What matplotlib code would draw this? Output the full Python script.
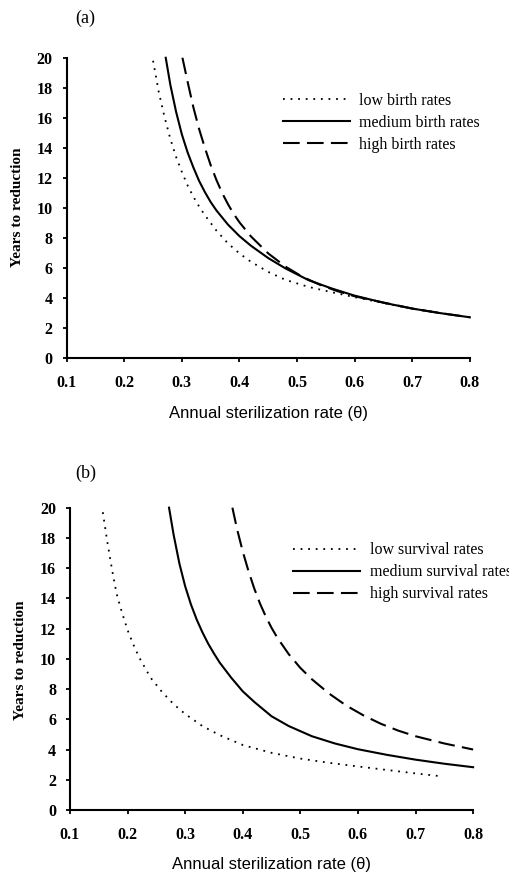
import matplotlib
matplotlib.use("Agg")
import matplotlib.pyplot as plt

# Panel (a): birth rates
a_low_x = [0.25, 0.26, 0.27, 0.28, 0.29, 0.30, 0.31, 0.32, 0.33, 0.34, 0.36, 0.38,
           0.40, 0.42, 0.45, 0.48, 0.52, 0.56, 0.60, 0.65, 0.70, 0.75, 0.80]
a_low_y = [19.8, 17.7, 16.05, 14.6, 13.4, 12.4, 11.5, 10.75, 10.1, 9.52, 8.5, 7.65,
           6.98, 6.42, 5.75, 5.22, 4.75, 4.4, 4.07, 3.68, 3.31, 3.0, 2.73]
a_med_x = [0.272, 0.28, 0.29, 0.30, 0.31, 0.32, 0.33, 0.34, 0.35, 0.36, 0.38,
           0.40, 0.42, 0.45, 0.48, 0.52, 0.56, 0.60, 0.65, 0.70, 0.75, 0.80]
a_med_y = [20.0, 18.2, 16.4, 14.9, 13.7, 12.7, 11.8, 11.06, 10.4, 9.84, 8.9,
           8.13, 7.49, 6.67, 5.98, 5.2, 4.65, 4.17, 3.7, 3.31, 3.0, 2.73]
a_high_x = [0.301, 0.31, 0.32, 0.33, 0.34, 0.35, 0.36, 0.37, 0.38, 0.39, 0.40,
            0.42, 0.45, 0.48, 0.51, 0.54, 0.57, 0.60, 0.65, 0.70, 0.75, 0.80]
a_high_y = [20.0, 18.4, 16.7, 15.25, 14.0, 12.86, 11.87, 11.0, 10.26, 9.61, 9.05,
            8.11, 6.98, 6.10, 5.41, 4.89, 4.47, 4.13, 3.71, 3.31, 3.0, 2.73]

# Panel (b): survival rates
b_low_x = [0.157, 0.165, 0.173, 0.181, 0.19, 0.20, 0.21, 0.22, 0.24, 0.26, 0.28,
           0.30, 0.33, 0.36, 0.40, 0.45, 0.50, 0.55, 0.60, 0.65, 0.70, 0.74]
b_low_y = [19.7, 17.7, 15.9, 14.3, 13.1, 11.9, 10.95, 10.1, 8.75, 7.8, 7.0,
           6.35, 5.55, 4.95, 4.3, 3.78, 3.4, 3.12, 2.88, 2.65, 2.42, 2.25]
b_med_x = [0.272, 0.28, 0.29, 0.30, 0.31, 0.32, 0.33, 0.34, 0.35, 0.36, 0.38,
           0.40, 0.42, 0.45, 0.48, 0.52, 0.56, 0.60, 0.65, 0.70, 0.75, 0.80]
b_med_y = [20.0, 18.2, 16.3, 14.8, 13.6, 12.6, 11.75, 11.0, 10.35, 9.75, 8.75,
           7.85, 7.15, 6.2, 5.55, 4.88, 4.4, 4.02, 3.65, 3.33, 3.06, 2.83]
b_high_x = [0.382, 0.39, 0.40, 0.41, 0.42, 0.43, 0.44, 0.45, 0.46, 0.48,
            0.50, 0.52, 0.55, 0.58, 0.61, 0.64, 0.67, 0.70, 0.75, 0.80]
b_high_y = [20.0, 18.6, 17.1, 15.8, 14.65, 13.65, 12.8, 12.05, 11.4, 10.3,
            9.4, 8.65, 7.7, 6.9, 6.25, 5.7, 5.25, 4.88, 4.4, 4.0]

x_ticks = [0.1, 0.2, 0.3, 0.4, 0.5, 0.6, 0.7, 0.8]
y_ticks = [0, 2, 4, 6, 8, 10, 12, 14, 16, 18, 20]

SERIF = "Liberation Serif"
SANS = "Liberation Sans"

fig = plt.figure(figsize=(5.09, 8.75), dpi=100)
ax_a = fig.add_axes([0.131, 0.5905, 0.792, 0.3435])
ax_b = fig.add_axes([0.1375, 0.0743, 0.792, 0.3455])


def style_axes(ax):
    ax.set_xlim(0.1, 0.8)
    ax.set_ylim(0, 20)
    for s in ["top", "right"]:
        ax.spines[s].set_visible(False)
    for s in ["left", "bottom"]:
        ax.spines[s].set_linewidth(1.5)
    ax.set_xticks(x_ticks)
    ax.set_yticks(y_ticks)
    ax.set_xticklabels([f"{t:.1f}" for t in x_ticks])
    ax.tick_params(axis="both", direction="out", length=3, width=1.3)
    ax.tick_params(axis="x", pad=9)
    ax.tick_params(axis="y", pad=7)
    for lbl in ax.get_xticklabels() + ax.get_yticklabels():
        lbl.set_fontfamily(SERIF)
        lbl.set_fontweight("bold")
        lbl.set_fontsize(11.5)
    ax.set_xlabel("Annual sterilization rate (\u03b8)", fontfamily=SANS, fontsize=12)
    ax.set_ylabel("Years to reduction", fontfamily=SERIF, fontweight="bold", fontsize=11)


def draw(ax, series, labels, anchor):
    styles = [dict(linestyle=(0, (1, 3.2)), linewidth=1.3),
              dict(linestyle="-", linewidth=1.5),
              dict(linestyle=(0, (8, 3.5)), linewidth=1.5)]
    for (xs, ys), lab, st in zip(series, labels, styles):
        ax.plot(xs, ys, color="black", label=lab, clip_on=False, **st)
    ax.legend(loc="upper left", bbox_to_anchor=anchor, frameon=False,
              prop={"family": SERIF, "size": 11.5}, handlelength=4.2,
              handletextpad=0.6, labelspacing=0.38, borderpad=0, borderaxespad=0)


style_axes(ax_a)
draw(ax_a, [(a_low_x, a_low_y), (a_med_x, a_med_y), (a_high_x, a_high_y)],
     ["low birth rates", "medium birth rates", "high birth rates"], (0.536, 0.884))
ax_a.xaxis.set_label_coords(0.5, -0.158)
ax_a.yaxis.set_label_coords(-0.106, 0.503)

style_axes(ax_b)
draw(ax_b, [(b_low_x, b_low_y), (b_med_x, b_med_y), (b_high_x, b_high_y)],
     ["low survival rates", "medium survival rates", "high survival rates"], (0.553, 0.886))
ax_b.xaxis.set_label_coords(0.5, -0.155)
ax_b.yaxis.set_label_coords(-0.107, 0.496)

fig.text(85 / 509, 1 - 18 / 875, "(a)", fontfamily=SERIF, fontsize=13, ha="center", va="center")
fig.text(86 / 509, 1 - 473 / 875, "(b)", fontfamily=SERIF, fontsize=13, ha="center", va="center")

fig.savefig("out.png", dpi=100)
